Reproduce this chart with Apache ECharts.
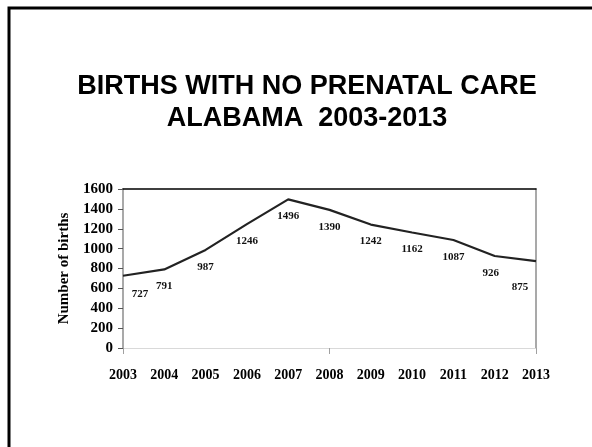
<!DOCTYPE html>
<html>
<head>
<meta charset="utf-8">
<script src="https://cdn.jsdelivr.net/npm/echarts@6/dist/echarts.min.js"></script>
<style>
  html, body { margin: 0; padding: 0; background: #fff; }
  #chart { width: 592px; height: 447px; }
</style>
</head>
<body>
<div id="chart"></div>
<script>
// Births with no prenatal care, Alabama, by year
var years = ['2003', '2004', '2005', '2006', '2007', '2008', '2009', '2010', '2011', '2012', '2013'];
var births = [727, 791, 987, 1246, 1496, 1390, 1242, 1162, 1087, 926, 875];
var titleLines = ['BIRTHS WITH NO PRENATAL CARE', 'ALABAMA  2003-2013'];
var yAxisTitle = 'Number of births';

var serif = '"Liberation Serif", "DejaVu Serif", serif';

// per-point label nudges where labels sit off-centre
var labelNudges = { 0: [17, 1], 9: [-4, 0], 10: [-16, 9] };
var seriesData = births.map(function (v, i) {
  var item = { value: v };
  if (labelNudges[i]) item.label = { offset: labelNudges[i] };
  return item;
});

var chart = echarts.init(document.getElementById('chart'), null, { renderer: 'canvas' });
chart.setOption({
  animation: false,
  backgroundColor: '#fff',
  title: {
    text: titleLines.join('\n'),
    left: 302,
    textAlign: 'center',
    top: 66,
    textStyle: {
      fontFamily: '"Liberation Sans", Arial, sans-serif',
      fontWeight: 'bold',
      fontSize: 27,
      lineHeight: 32,
      color: '#000'
    }
  },
  graphic: [{
    type: 'rect',
    shape: { x: 9, y: 8, width: 700, height: 600 },
    style: { fill: 'none', stroke: '#000', lineWidth: 3 },
    silent: true
  }],
  grid: { left: 123, right: 56, top: 189, bottom: 99 },
  xAxis: [{
    type: 'category',
    data: years,
    boundaryGap: false,
    axisLine: { lineStyle: { color: '#d9d9d9', width: 1 } },
    axisTick: { show: true, interval: 4, length: 6, lineStyle: { color: '#a0a0a0' } },
    axisLabel: {
      interval: 0,
      margin: 20,
      fontFamily: serif,
      fontWeight: 'bold',
      fontSize: 14,
      color: '#000'
    },
    splitLine: { show: false }
  }, {
    type: 'category',
    data: years,
    position: 'top',
    boundaryGap: false,
    axisLine: { onZero: false, lineStyle: { color: '#000', width: 1.5 } },
    axisTick: { show: false },
    axisLabel: { show: false }
  }],
  yAxis: [{
    type: 'value',
    min: 0,
    max: 1600,
    interval: 200,
    name: yAxisTitle,
    nameLocation: 'middle',
    nameGap: 46,
    nameRotate: 90,
    nameTextStyle: {
      fontFamily: serif,
      fontWeight: 'bold',
      fontSize: 15,
      color: '#000'
    },
    axisLine: { show: true, lineStyle: { color: '#8c8c8c', width: 1.5 } },
    axisTick: { show: true, length: 5, lineStyle: { color: '#555' } },
    axisLabel: {
      margin: 10,
      formatter: function (v) { return String(v); },
      fontFamily: serif,
      fontWeight: 'bold',
      fontSize: 15,
      color: '#000'
    },
    splitLine: { show: false }
  }, {
    type: 'value',
    min: 0,
    max: 1600,
    interval: 200,
    position: 'right',
    axisLine: { show: true, onZero: false, lineStyle: { color: '#8c8c8c', width: 1.5 } },
    axisTick: { show: false },
    axisLabel: { show: false },
    splitLine: { show: false }
  }],
  series: [{
    type: 'line',
    data: seriesData,
    showSymbol: true,
    symbol: 'circle',
    symbolSize: 1,
    itemStyle: { color: 'rgba(0,0,0,0)', borderWidth: 0 },
    lineStyle: { color: '#222', width: 2.2 },
    label: {
      show: true,
      position: 'bottom',
      distance: 11,
      fontFamily: serif,
      fontWeight: 'bold',
      fontSize: 11,
      color: '#111'
    }
  }]
});
</script>
</body>
</html>
